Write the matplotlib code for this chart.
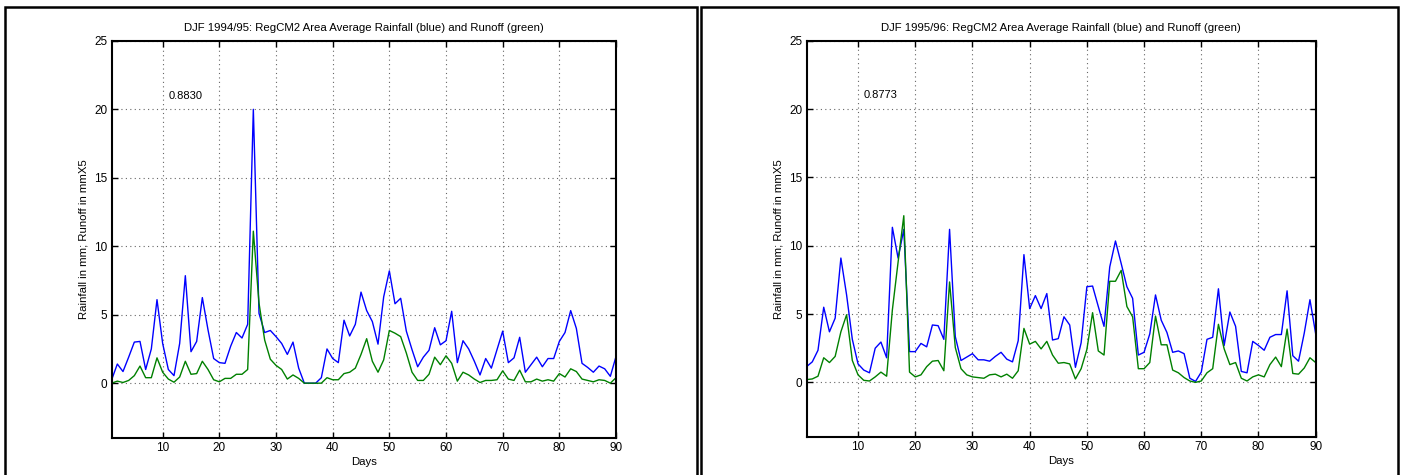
import matplotlib
matplotlib.use("Agg")
import matplotlib.pyplot as plt
import numpy as np
from matplotlib.patches import Rectangle

plt.rcParams['font.family'] = ['Liberation Sans', 'DejaVu Sans']

days = np.arange(1, 91)

# DJF 1994/95
rain_9495 = [0.25, 1.4, 0.85, 1.9, 3.0, 3.05, 1.0, 2.5, 6.1, 2.9,
             1.0, 0.55, 2.9, 7.85, 2.3, 3.05, 6.25, 3.9, 1.8, 1.5,
             1.45, 2.7, 3.7, 3.3, 4.3, 20.0, 5.1, 3.7, 3.85, 3.4,
             2.9, 2.1, 3.0, 1.1, 0.0, 0.0, 0.0, 0.4, 2.5, 1.8,
             1.5, 4.6, 3.45, 4.3, 6.65, 5.3, 4.5, 2.85, 6.3, 8.2,
             5.8, 6.2, 3.8, 2.45, 1.2, 1.9, 2.4, 4.05, 2.8, 3.1,
             5.25, 1.5, 3.1, 2.5, 1.6, 0.6, 1.8, 1.1, 2.45, 3.8,
             1.5, 1.85, 3.35, 0.8, 1.35, 1.9, 1.2, 1.8, 1.8, 3.05,
             3.7, 5.3, 4.0, 1.45, 1.15, 0.8, 1.25, 1.05, 0.5, 1.95]
runoff_9495 = [0.0, 0.15, 0.05, 0.2, 0.55, 1.25, 0.4, 0.4, 1.85, 0.8,
               0.3, 0.07, 0.45, 1.6, 0.65, 0.7, 1.6, 1.0, 0.25, 0.1,
               0.35, 0.35, 0.65, 0.65, 1.0, 11.1, 5.85, 3.15, 1.75, 1.3,
               1.0, 0.3, 0.6, 0.35, 0.0, 0.0, 0.0, 0.0, 0.4, 0.25,
               0.25, 0.7, 0.8, 1.1, 2.1, 3.25, 1.6, 0.8, 1.7, 3.85,
               3.65, 3.4, 2.2, 0.8, 0.2, 0.2, 0.65, 1.9, 1.35, 2.0,
               1.45, 0.15, 0.8, 0.6, 0.3, 0.05, 0.2, 0.2, 0.25, 0.9,
               0.3, 0.2, 0.95, 0.1, 0.1, 0.3, 0.15, 0.25, 0.15, 0.7,
               0.45, 1.05, 0.85, 0.3, 0.2, 0.1, 0.25, 0.2, 0.0, 0.4]

# DJF 1995/96
rain_9596 = [1.15, 1.5, 2.35, 5.5, 3.7, 4.7, 9.1, 6.4, 3.15, 1.35,
             0.9, 0.7, 2.5, 2.95, 1.8, 11.35, 9.1, 11.2, 2.25, 2.25,
             2.85, 2.6, 4.2, 4.15, 3.15, 11.2, 3.35, 1.6, 1.85, 2.1,
             1.65, 1.65, 1.55, 1.9, 2.2, 1.7, 1.5, 3.05, 9.35, 5.4,
             6.35, 5.4, 6.5, 3.1, 3.2, 4.8, 4.2, 1.1, 2.9, 7.0,
             7.05, 5.55, 4.1, 8.45, 10.35, 8.7, 7.0, 6.15, 2.0, 2.2,
             3.55, 6.4, 4.55, 3.65, 2.2, 2.3, 2.1, 0.3, 0.07, 0.75,
             3.15, 3.3, 6.85, 2.7, 5.15, 4.1, 0.8, 0.7, 3.0, 2.7,
             2.35, 3.3, 3.5, 3.5, 6.7, 1.95, 1.55, 3.6, 6.05, 3.55]
runoff_9596 = [0.2, 0.25, 0.45, 1.8, 1.45, 1.9, 3.7, 4.95, 1.6, 0.55,
               0.15, 0.1, 0.4, 0.75, 0.45, 5.3, 8.8, 12.2, 0.75, 0.4,
               0.55, 1.15, 1.55, 1.6, 0.85, 7.35, 2.55, 1.0, 0.55, 0.4,
               0.35, 0.3, 0.55, 0.6, 0.4, 0.6, 0.3, 0.85, 3.95, 2.8,
               3.0, 2.45, 3.0, 2.0, 1.4, 1.45, 1.35, 0.25, 1.0, 2.4,
               5.1, 2.3, 2.0, 7.4, 7.4, 8.2, 5.55, 4.8, 1.0, 1.0,
               1.45, 4.85, 2.75, 2.75, 0.9, 0.7, 0.35, 0.1, 0.0, 0.1,
               0.7, 1.0, 4.25, 2.45, 1.3, 1.45, 0.3, 0.1, 0.4, 0.55,
               0.4, 1.3, 1.85, 1.15, 3.9, 0.65, 0.6, 1.05, 1.8, 1.45]

panels = [
    ("DJF 1994/95: RegCM2 Area Average Rainfall (blue) and Runoff (green)",
     rain_9495, runoff_9495, "0.8830"),
    ("DJF 1995/96: RegCM2 Area Average Rainfall (blue) and Runoff (green)",
     rain_9596, runoff_9596, "0.8773"),
]
ax_pos = [[0.0797, 0.078, 0.360, 0.836], [0.5757, 0.080, 0.3634, 0.834]]
frames = [(5, 697), (701, 1398)]

fig = plt.figure(figsize=(14.01, 4.75), dpi=100)

# panel frames
for x0, x1 in frames:
    fig.patches.append(Rectangle((x0 / 1401, -0.05), (x1 - x0) / 1401, (468 + 24) / 475,
                                 transform=fig.transFigure, fill=False,
                                 edgecolor='black', linewidth=1.8))

for pos, (title, rain, runoff, corr) in zip(ax_pos, panels):
    ax = fig.add_axes(pos)
    ax.plot(days, rain, color='#0000ff', linewidth=1.0)
    ax.plot(days, runoff, color='#008000', linewidth=1.0)
    ax.set_xlim(1, 90)
    ax.set_ylim(-4, 25)
    ax.set_xticks(np.arange(10, 91, 10))
    ax.set_yticks(np.arange(0, 26, 5))
    ax.grid(True, linestyle=(0, (1, 3)), color='#666666', linewidth=0.8)
    ax.tick_params(direction='in', top=True, right=True, length=4,
                   width=1.0, labelsize=8.5, pad=3)
    for s in ax.spines.values():
        s.set_linewidth(1.5)
    ax.set_title(title, fontsize=8.2, pad=7)
    ax.set_xlabel("Days", fontsize=8.2, labelpad=2)
    ax.set_ylabel("Rainfall in mm; Runoff in mmX5", fontsize=8.2, labelpad=4)
    ax.text(11, 21, corr, fontsize=8, ha='left', va='center')

fig.savefig("out.png", dpi=100)
